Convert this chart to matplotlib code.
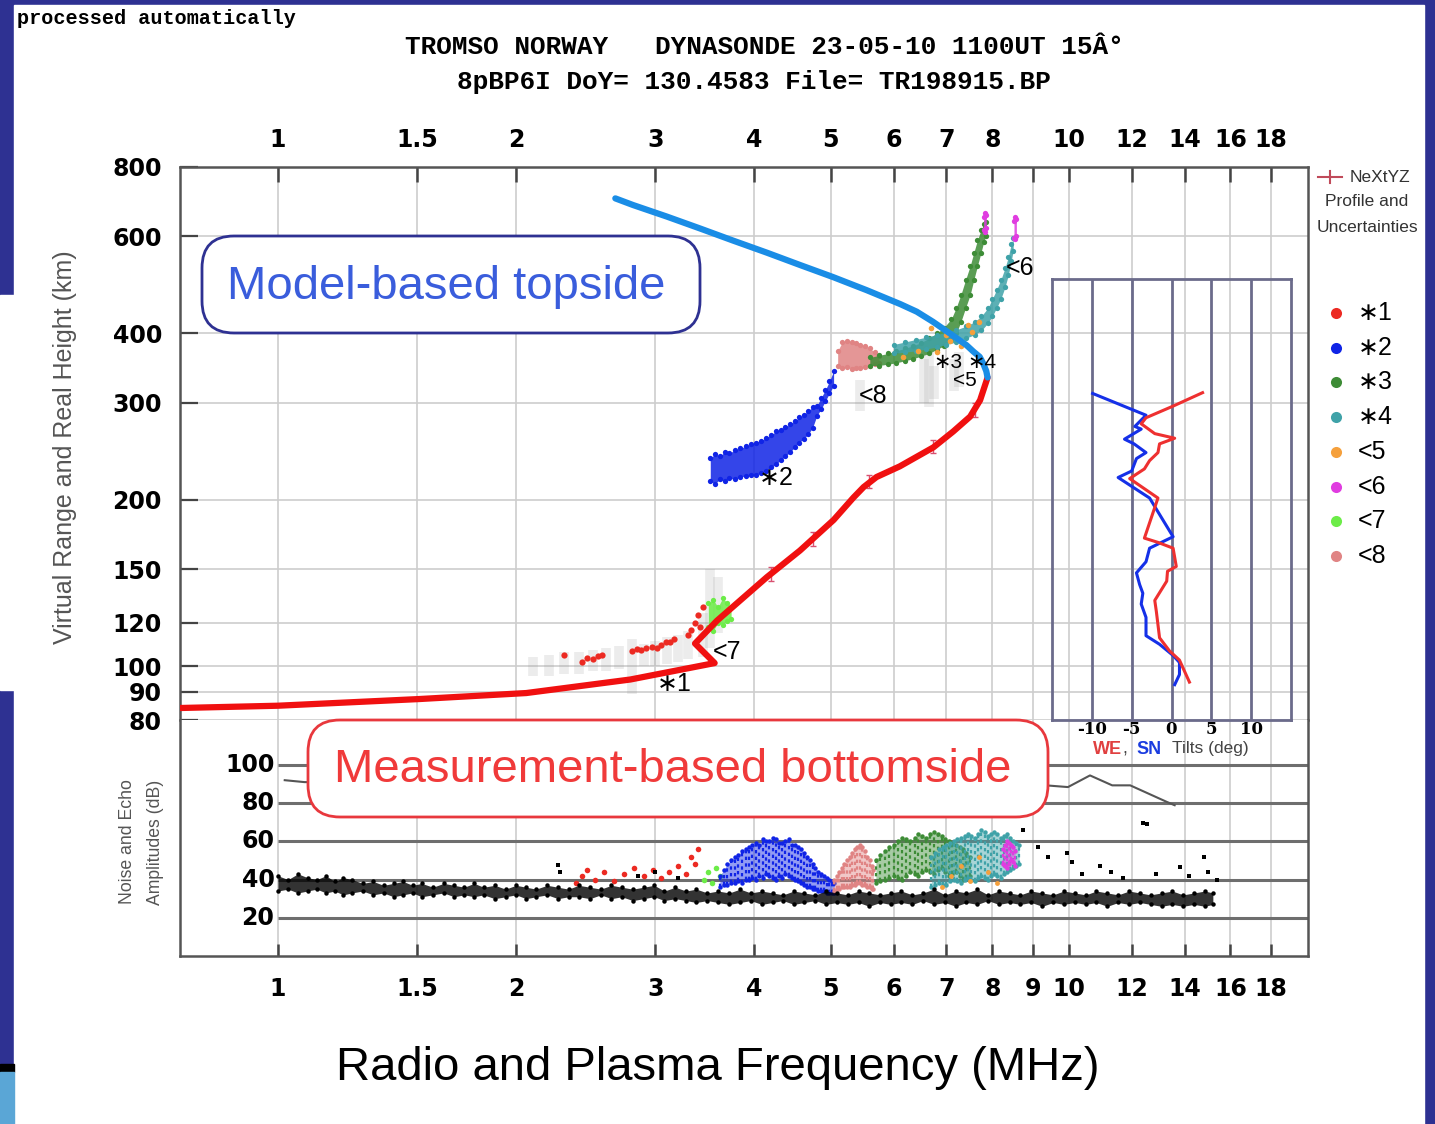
import matplotlib
matplotlib.use("Agg")
import matplotlib.pyplot as plt
from matplotlib.patches import FancyBboxPatch, Rectangle
from matplotlib import font_manager

# ---- data ----
top_ticks = [1, 1.5, 2, 3, 4, 5, 6, 7, 8, 9, 10, 12, 14, 16, 18]
top_labels = ['1', '1.5', '2', '3', '4', '5', '6', '7', '8', '', '10', '12', '14', '16', '18']
bottom_labels = ['1', '1.5', '2', '3', '4', '5', '6', '7', '8', '9', '10', '12', '14', '16', '18']
height_ticks = [80, 90, 100, 120, 150, 200, 300, 400, 600, 800]
amp_levels = [20, 40, 60, 80, 100]

# NeXtYZ bottomside profile (MHz, km)
profile_f = [0.753, 1.0, 1.51, 2.06, 2.79, 3.565, 3.367, 3.59, 4.15, 4.57,
             5.04, 5.34, 5.50, 5.71, 6.11, 6.74, 7.14, 7.50, 7.72, 7.89]
profile_h = [84.1, 84.9, 87.3, 89.5, 94.7, 101.4, 110, 121, 145, 162,
             184, 202, 211, 220, 230, 249, 266, 283, 303, 333]
err_f = [4.2, 4.75, 5.59, 6.74, 7.6]
err_h = [147, 170, 216, 250, 291]
err_dh = [4, 5, 6, 7, 8]

# model topside
topside_f = [2.67, 2.81, 3.10, 3.42, 3.76, 4.15, 4.57, 5.03, 5.55, 6.12,
             6.42, 6.73, 7.07, 7.42, 7.57, 7.71, 7.79, 7.86, 7.89]
topside_h = [702, 683, 651, 619, 589, 560, 532, 506, 479, 452,
             438, 420, 400, 381, 371, 363, 353, 342, 333]

# echo traces: frequency, lower and upper virtual height
red1_f = [2.3, 2.42, 2.46, 2.5, 2.54, 2.57, 2.8, 2.84, 2.88, 2.92, 2.97, 3.01, 3.05,
          3.09, 3.13, 3.17, 3.3, 3.33, 3.37, 3.4, 3.42, 3.45]
red1_h = [105, 102, 103.5, 103, 104.5, 104.8, 106.5, 107.5, 107, 108, 108.5, 108, 109.5,
          110.5, 110.8, 112, 114, 116.6, 120, 124, 118, 128]

blue2_f = [3.52, 3.57, 3.62, 3.67, 3.72, 3.78, 3.84, 3.9, 3.96, 4.02,
           4.08, 4.14, 4.2, 4.26, 4.32, 4.38, 4.44, 4.5, 4.56, 4.62,
           4.68, 4.74, 4.8, 4.86, 4.92, 4.98, 5.04]
blue2_lo = [216, 214, 218, 216, 219, 218, 220, 221, 222, 222,
            224, 226, 229, 232, 236, 240, 244, 249, 254, 258,
            263, 270, 284, 292, 302, 312, 322]
blue2_hi = [238, 242, 240, 244, 243, 246, 248, 250, 252, 254,
            256, 259, 262, 266, 268, 271, 274, 278, 282, 285,
            290, 294, 296, 306, 316, 328, 342]

green3_f = [5.6, 5.75, 5.9, 6.05, 6.2, 6.35, 6.5, 6.65, 6.8, 6.95,
            7.1, 7.2, 7.3, 7.4, 7.5, 7.58, 7.66, 7.74, 7.8, 7.85]
green3_lo = [350, 350, 352, 354, 357, 360, 364, 368, 374, 380,
             390, 400, 420, 445, 470, 500, 530, 560, 585, 600]
green3_hi = [362, 365, 368, 372, 376, 380, 385, 392, 400, 410,
             425, 445, 470, 500, 530, 560, 590, 615, 630, 635]

teal4_f = [6.0, 6.2, 6.4, 6.6, 6.8, 7.0, 7.2, 7.4, 7.6, 7.75,
           7.9, 8.0, 8.1, 8.2, 8.3, 8.38, 8.45, 8.5]
teal4_lo = [368, 370, 372, 375, 378, 382, 386, 392, 398, 405,
            418, 430, 445, 462, 485, 510, 540, 565]
teal4_hi = [382, 386, 390, 394, 398, 402, 406, 412, 420, 430,
            445, 462, 480, 500, 525, 550, 580, 595]

orange5_f = [6.17, 6.45, 6.7, 6.8, 7.0, 7.07, 7.3, 7.45, 7.55, 7.7]
orange5_h = [363, 372, 409, 370, 398, 388, 379, 415, 402, 420]

# <6 shows up as two short pieces, one on top of each F2 trace
magenta6a_f = [7.8, 7.83, 7.86]
magenta6a_lo = [615, 610, 620]
magenta6a_hi = [650, 660, 655]
magenta6b_f = [8.52, 8.55, 8.58]
magenta6b_lo = [595, 592, 600]
magenta6b_hi = [640, 650, 645]

green7_f = [3.5, 3.55, 3.6, 3.65, 3.7, 3.74]
green7_lo = [118, 116, 120, 119, 121, 122]
green7_hi = [130, 132, 128, 133, 130, 128]

pink8_f = [5.1, 5.17, 5.24, 5.31, 5.38, 5.45, 5.52, 5.6, 5.68, 5.75]
pink8_lo = [350, 346, 348, 345, 347, 346, 348, 350, 352, 354]
pink8_hi = [372, 386, 388, 386, 384, 382, 380, 376, 370, 364]

# raw grey echo smears
streak_f = [2.1, 2.2, 2.3, 2.4, 2.5, 2.6, 2.7, 2.8, 2.9, 3.0,
            3.1, 3.2, 3.3, 3.45, 3.52, 3.6, 5.45, 6.55, 6.65, 6.75, 7.15, 7.25]
streak_lo = [96, 96, 97, 97, 98, 98, 99, 89, 100, 100,
             101, 102, 103, 104, 108, 115, 290, 300, 295, 305, 315, 320]
streak_hi = [104, 105, 106, 106, 107, 108, 109, 112, 110, 111,
             113, 114, 116, 125, 150, 145, 330, 360, 370, 350, 360, 370]

# tilts (deg) against height (km)
tilt_h_sn = [312, 285, 272, 269, 258, 253, 244, 238, 226, 220,
             202, 172, 169, 164, 155, 148, 141, 136, 130, 123,
             114, 110, 105, 102, 97, 93]
tilt_sn = [-9.9, -3.2, -4.6, -3.8, -5.9, -4.7, -3.2, -4.4, -5.0, -6.7,
           -2.75, 0.2, -0.9, -2.75, -3.2, -4.4, -4.0, -3.6, -3.8, -3.2,
           -3.2, -1.5, 0.2, 1.0, 1.0, 0.4]
tilt_h_we = [313, 296, 282, 275, 264, 259, 253, 244, 236, 228,
             219, 202, 171, 168, 164, 152, 149, 143, 132, 126,
             113, 107, 103, 94]
tilt_we = [3.9, 0.2, -3.2, -3.8, -2.1, 0.4, -1.5, -1.7, -2.75, -3.4,
           -5.25, -1.7, -3.4, -1.7, 0.2, 0.6, -0.5, -0.6, -2.1, -1.9,
           -1.5, -0.25, 1.0, 2.25]

# amplitudes (dB)
gain_f = [1.02, 1.08, 2.0, 5.0, 9.0, 9.35, 9.97, 10.63, 11.34, 11.95, 13.3, 13.6]
gain_db = [92, 91, 90, 90, 89, 89.3, 88.4, 94.5, 89.3, 89.3, 80.6, 78.9]

noise_f = [1.0, 1.03, 1.06, 1.09, 1.12, 1.15, 1.18, 1.21, 1.24, 1.28,
           1.32, 1.36, 1.4, 1.44, 1.48, 1.52, 1.57, 1.62, 1.67, 1.72,
           1.77, 1.82, 1.88, 1.94, 2.0, 2.06, 2.12, 2.19, 2.26, 2.33,
           2.4, 2.48, 2.56, 2.64, 2.72, 2.81, 2.9, 2.99, 3.08, 3.18,
           3.28, 3.38, 3.49, 3.6, 3.72, 3.84, 3.96, 4.09, 4.22, 4.35,
           4.49, 4.63, 4.78, 4.93, 5.09, 5.25, 5.42, 5.59, 5.77, 5.95,
           6.14, 6.34, 6.54, 6.75, 6.97, 7.19, 7.42, 7.66, 7.9, 8.15,
           8.41, 8.68, 8.96, 9.25, 9.55, 9.85, 10.17, 10.5, 10.83, 11.18,
           11.54, 11.91, 12.29, 12.68, 13.09, 13.51, 13.94, 14.39, 14.85, 15.2]
noise_lo = [34, 35, 33, 34, 35, 33, 34, 32, 33, 34,
            32, 33, 31, 32, 33, 31, 32, 33, 31, 32,
            31, 32, 30, 31, 32, 30, 31, 32, 30, 31,
            31, 30, 32, 30, 31, 29, 30, 31, 29, 30,
            29, 28, 29, 28, 27, 28, 29, 27, 28, 29,
            27, 28, 29, 27, 28, 27, 28, 26, 28, 27,
            28, 27, 29, 27, 28, 26, 28, 27, 29, 27,
            28, 27, 28, 26, 28, 27, 28, 27, 28, 26,
            28, 27, 28, 27, 26, 27, 26, 27, 26, 27]
noise_hi = [42, 40, 43, 41, 40, 42, 39, 41, 40, 38,
            39, 37, 38, 39, 37, 38, 36, 38, 37, 36,
            38, 36, 37, 35, 37, 36, 35, 37, 36, 35,
            37, 36, 35, 37, 36, 35, 36, 37, 34, 36,
            34, 35, 33, 34, 33, 35, 33, 34, 33, 32,
            34, 33, 32, 34, 33, 32, 34, 33, 32, 33,
            34, 32, 33, 35, 32, 34, 33, 35, 32, 34,
            33, 32, 34, 33, 32, 34, 33, 32, 34, 33,
            32, 34, 33, 32, 33, 34, 32, 33, 34, 33]

red1_amp_f = [2.38, 2.42, 2.46, 2.52, 2.58, 2.66, 2.74, 2.82, 2.9, 2.98,
              3.05, 3.12, 3.2, 3.28, 3.33, 3.37, 3.4]
red1_amp_db = [38, 42, 45, 40, 44, 39, 43, 46, 42, 45,
               41, 44, 47, 43, 52, 48, 56]
green7_amp_f = [3.46, 3.5, 3.54, 3.58, 3.62]
green7_amp_db = [40, 44, 38, 46, 42]
blue2_amp_f = [3.62, 3.66, 3.7, 3.74, 3.78, 3.82, 3.86, 3.9, 3.94, 3.98,
               4.02, 4.06, 4.1, 4.14, 4.18, 4.22, 4.26, 4.3, 4.34, 4.38,
               4.42, 4.46, 4.5, 4.54, 4.58, 4.62, 4.66, 4.7, 4.74, 4.78,
               4.82, 4.86, 4.9, 4.94, 4.98, 5.02, 5.05]
blue2_amp_lo = [36, 37, 37, 38, 38, 39, 38, 40, 40, 41,
                40, 42, 41, 43, 42, 41, 40, 42, 41, 43,
                42, 41, 40, 39, 38, 37, 36, 36, 35, 35,
                34, 34, 34, 33, 33, 33, 33]
blue2_amp_hi = [42, 45, 48, 50, 52, 53, 55, 56, 57, 58,
                59, 58, 61, 60, 60, 62, 61, 59, 59, 60,
                61, 58, 58, 57, 56, 54, 52, 50, 48, 46,
                44, 43, 42, 41, 40, 39, 38]
pink8_amp_f = [5.05, 5.09, 5.12, 5.16, 5.2, 5.24, 5.28, 5.32, 5.36, 5.4,
               5.44, 5.48, 5.52, 5.56, 5.6, 5.63, 5.66]
pink8_amp_lo = [34, 35, 35, 36, 36, 36, 36, 37, 37, 38, 38, 37, 37, 36, 36, 35, 35]
pink8_amp_hi = [40, 42, 44, 46, 48, 50, 52, 54, 56, 57, 58, 57, 55, 52, 50, 47, 45]
green3_amp_f = [5.7, 5.77, 5.85, 5.92, 6.0, 6.08, 6.15, 6.22, 6.3, 6.38,
                6.45, 6.52, 6.6, 6.68, 6.75, 6.82, 6.9, 6.98, 7.05, 7.12,
                7.2, 7.28, 7.35, 7.42, 7.5]
green3_amp_lo = [38, 39, 40, 41, 42, 41, 40, 42, 44, 43,
                 42, 44, 45, 44, 43, 45, 46, 44, 42, 43,
                 44, 42, 40, 41, 42]
green3_amp_hi = [50, 53, 55, 57, 58, 60, 62, 61, 60, 62,
                 64, 63, 62, 64, 65, 64, 63, 61, 60, 59,
                 58, 57, 56, 54, 52]
teal4_amp_f = [6.7, 6.78, 6.85, 6.92, 7.0, 7.08, 7.15, 7.22, 7.3, 7.38,
               7.45, 7.52, 7.6, 7.68, 7.75, 7.82, 7.9, 7.98, 8.05, 8.12,
               8.2, 8.28, 8.35, 8.42, 8.5, 8.58, 8.65]
teal4_amp_lo = [36, 37, 38, 37, 37, 39, 40, 39, 38, 40,
                41, 40, 39, 41, 42, 41, 40, 42, 43, 42,
                41, 43, 44, 45, 46, 47, 48]
teal4_amp_hi = [52, 54, 56, 57, 58, 59, 60, 61, 62, 63,
                64, 63, 62, 64, 66, 65, 63, 64, 65, 64,
                62, 63, 64, 62, 60, 59, 58]
magenta6_amp_f = [8.25, 8.3, 8.35, 8.4, 8.45, 8.5, 8.55]
magenta6_amp_lo = [48, 47, 46, 48, 50, 49, 47]
magenta6_amp_hi = [56, 58, 60, 59, 58, 57, 55]
orange5_amp_f = [6.9, 7.1, 7.3, 7.5, 7.7, 7.9, 8.1]
orange5_amp_db = [36, 42, 47, 39, 52, 44, 38]
black_amp_f = [2.26, 2.27, 2.85, 3.0, 3.2, 8.74, 9.14, 9.4, 9.95, 10.1,
               10.4, 10.95, 11.3, 11.7, 12.4, 12.55, 12.9, 13.8, 14.2, 14.8,
               15.0, 15.4]
black_amp_db = [47.6, 44, 42, 44, 41, 65.8, 57, 52, 54, 49,
                43, 47, 44, 41, 69.5, 69, 43, 46.5, 42, 51.7,
                44, 40]

trace_labels = ['∗1', '∗2', '∗3', '∗4', '<5', '<6', '<7', '<8']
trace_colors = ['#ec2a22', '#1024e6', '#3d8c36', '#3fa2a8',
                '#f5a03c', '#e03ce0', '#6cec48', '#e08484']
C = dict(zip(trace_labels, trace_colors))

# ---- figure ----
W, H = 1435, 1124
names = {f.name for f in font_manager.fontManager.ttflist}
NARROW = 'Liberation Sans Narrow' if 'Liberation Sans Narrow' in names else 'Liberation Sans'
NS = 1.2 if NARROW == 'Liberation Sans Narrow' else 1.0
SANS = ['Liberation Sans', 'DejaVu Sans']
MONO = ['Liberation Mono', 'DejaVu Sans Mono']

fig = plt.figure(figsize=(W / 100, H / 100), dpi=100, facecolor='#2e3192')


def rect(x0, y0, x1, y1):
    return [x0 / W, 1 - y1 / H, (x1 - x0) / W, (y1 - y0) / H]


bg = fig.add_axes([0, 0, 1, 1], zorder=-5)
bg.set_xlim(0, W)
bg.set_ylim(H, 0)
bg.axis('off')
bg.add_patch(Rectangle((14, 5), 1410, 1119, color='white'))
bg.add_patch(Rectangle((0, 295), 14, 395, color='white'))
bg.add_patch(Rectangle((0, 1064), 14, 8, color='black'))
bg.add_patch(Rectangle((0, 1072), 14, 52, color='#5aa6d6'))

ax = fig.add_axes(rect(180, 167, 1308, 720), zorder=1)
ax2 = fig.add_axes(rect(180, 720, 1308, 956), zorder=1)
tilt = fig.add_axes(rect(1052, 279, 1291, 720), zorder=2, facecolor='none')
ov = fig.add_axes([0, 0, 1, 1], zorder=3)

GRID = '#cdcdcd'
for a in (ax, ax2):
    a.set_xscale('log')
    a.set_xlim(0.752, 20.05)
    a.set_xticks(top_ticks)
    a.minorticks_off()
    a.set_facecolor('white')
    for s in a.spines.values():
        s.set_color('#555555')
        s.set_linewidth(1.8)
    a.grid(axis='x', color=GRID, lw=1.2, zorder=0)
    a.set_axisbelow(True)

# upper panel
ax.set_yscale('log')
ax.set_ylim(80, 800)
ax.set_yticks(height_ticks)
ax.minorticks_off()
ax.set_yticklabels([str(v) for v in height_ticks], fontsize=17, fontweight='bold')
ax.set_xticklabels(top_labels, fontsize=17, fontweight='bold')
ax.xaxis.tick_top()
ax.grid(axis='y', color=GRID, lw=1.2, zorder=0)
ax.tick_params(axis='y', direction='in', length=13, width=1.6, color='#444444', pad=13)
ax.tick_params(axis='x', direction='in', length=11, width=1.8, color='#444444', pad=11)
ax.spines['bottom'].set_visible(False)

ax.vlines(streak_f, streak_lo, streak_hi, color='#8c8c8c', lw=7, alpha=0.16, zorder=1)


def trace(a, f, lo, hi, color, alpha=0.85, ms=3.8, z=3, texture=False):
    # echo cloud: filled spread between lower and upper edge, speckled borders
    a.fill_between(f, lo, hi, color=color, alpha=alpha, lw=0, zorder=z)
    if texture:
        a.vlines(f, lo, hi, colors=color, lw=1.6, linestyles=(0, (1.5, 1.5)), zorder=z)
    a.plot(f, lo, 'o', color=color, ms=ms, mew=0, zorder=z)
    a.plot(f, hi, 'o', color=color, ms=ms, mew=0, zorder=z)


ax.plot(red1_f, red1_h, 'o', color=C['∗1'], ms=4.5, mew=0, zorder=3)
trace(ax, blue2_f, blue2_lo, blue2_hi, C['∗2'])
trace(ax, pink8_f, pink8_lo, pink8_hi, C['<8'])
trace(ax, green3_f, green3_lo, green3_hi, C['∗3'])
trace(ax, teal4_f, teal4_lo, teal4_hi, C['∗4'])
trace(ax, magenta6a_f, magenta6a_lo, magenta6a_hi, C['<6'])
trace(ax, magenta6b_f, magenta6b_lo, magenta6b_hi, C['<6'])
trace(ax, green7_f, green7_lo, green7_hi, C['<7'])
ax.plot(orange5_f, orange5_h, 'o', color=C['<5'], ms=4, mew=0, zorder=3)

ax.errorbar(err_f, err_h, yerr=err_dh, fmt='none', ecolor='#d85070',
            elinewidth=1, capsize=2.5, zorder=4)
ax.plot(profile_f, profile_h, color='#f01010', lw=4.5, solid_joinstyle='round',
        solid_capstyle='round', zorder=5)
ax.plot(topside_f, topside_h, color='#1a8de6', lw=4.5, solid_capstyle='round', zorder=5)

lab_kw = dict(fontsize=18, family=SANS, ha='center', va='center', zorder=6)
ax.text(3.17, 92.9, '∗1', **lab_kw)
ax.text(3.70, 106.2, '<7', **lab_kw)
ax.text(4.27, 219, '∗2', **lab_kw)
ax.text(5.65, 308, '<8', **lab_kw)
ax.text(8.67, 525, '<6', **lab_kw)
small_kw = dict(lab_kw, fontsize=15)
ax.text(7.03, 355, '∗3', **small_kw)
ax.text(7.39, 329.5, '<5', **small_kw)
ax.text(7.76, 355, '∗4', **small_kw)

# lower panel
ax2.set_ylim(0, 123.5)
ax2.set_yticks([])
ax2.set_xticklabels(bottom_labels, fontsize=17, fontweight='bold')
ax2.tick_params(axis='x', direction='in', length=9, width=1.8, color='#444444', pad=15)
ax2.spines['top'].set_visible(False)
ax2.hlines(amp_levels, 1.0, 20.05, color='#6e6e6e', lw=2.2, zorder=1)
for lev in amp_levels:
    ax2.text(0.99, lev, str(lev), ha='right', va='center', fontsize=17, fontweight='bold')

ax2.plot(gain_f, gain_db, color='#555555', lw=1.5, zorder=2)
ax2.plot(red1_amp_f, red1_amp_db, 'o', color=C['∗1'], ms=4, mew=0, zorder=3)
ax2.plot(green7_amp_f, green7_amp_db, 'o', color=C['<7'], ms=4, mew=0, zorder=3)
amp_kw = dict(alpha=0.45, ms=3.2, texture=True)
trace(ax2, blue2_amp_f, blue2_amp_lo, blue2_amp_hi, C['∗2'], **amp_kw)
trace(ax2, pink8_amp_f, pink8_amp_lo, pink8_amp_hi, C['<8'], **amp_kw)
trace(ax2, green3_amp_f, green3_amp_lo, green3_amp_hi, C['∗3'], **amp_kw)
trace(ax2, teal4_amp_f, teal4_amp_lo, teal4_amp_hi, C['∗4'], **amp_kw)
trace(ax2, magenta6_amp_f, magenta6_amp_lo, magenta6_amp_hi, C['<6'], **amp_kw)
ax2.plot(orange5_amp_f, orange5_amp_db, 'o', color=C['<5'], ms=3.5, mew=0, zorder=3)
ax2.plot(black_amp_f, black_amp_db, 's', color='black', ms=3, mew=0, zorder=4)
trace(ax2, noise_f, noise_lo, noise_hi, 'black', alpha=0.8, ms=3.2, z=4)

# tilt inset
TC = '#6b6b8b'
tilt.set_xlim(-15, 15)
tilt.set_yscale('log')
tilt.set_ylim(80.3, 502)
tilt.minorticks_off()
tilt.set_yticks([])
tilt.set_xticks([-10, -5, 0, 5, 10])
tilt.set_xticklabels(['-10', '-5', '0', '5', '10'], fontsize=12, fontweight='bold',
                     family='DejaVu Serif')
tilt.tick_params(axis='x', length=0, pad=1)
tilt.grid(axis='x', color=TC, lw=2)
for s in tilt.spines.values():
    s.set_color(TC)
    s.set_linewidth(2)
tilt.plot(tilt_sn, tilt_h_sn, color='#1530e8', lw=2.2)
tilt.plot(tilt_we, tilt_h_we, color='#ee3030', lw=2.2)

# overlay: titles, labels, call-outs, legend
ov.set_xlim(0, W)
ov.set_ylim(H, 0)
ov.axis('off')
ov.set_autoscale_on(False)

ov.text(17, 18, 'processed automatically', family=MONO, fontweight='bold',
        fontsize=14.5, ha='left', va='center')
ov.text(405, 47, 'TROMSO NORWAY   DYNASONDE 23-05-10 1100UT 15Â°', family=MONO,
        fontweight='bold', fontsize=18.8, ha='left', va='center')
ov.text(457, 82, '8pBP6I DoY= 130.4583 File= TR198915.BP', family=MONO,
        fontweight='bold', fontsize=18.8, ha='left', va='center')

ov.text(65, 447, 'Virtual Range and Real Height (km)', rotation=90, ha='center',
        va='center', color='#555555', family=NARROW, fontsize=18 * NS)
ov.text(128, 842, 'Noise and Echo', rotation=90, ha='center', va='center',
        color='#555555', family=NARROW, fontsize=12.7 * NS)
ov.text(156, 842, 'Amplitudes (dB)', rotation=90, ha='center', va='center',
        color='#555555', family=NARROW, fontsize=12.7 * NS)
ov.text(718, 1068, 'Radio and Plasma Frequency (MHz)', ha='center', va='center',
        family=SANS, fontsize=34)

ov.add_patch(FancyBboxPatch((202, 236), 498, 97, boxstyle='round,pad=0,rounding_size=32',
                            fc='white', ec='#2e3192', lw=2))
ov.text(446, 287, 'Model-based topside', ha='center', va='center', color='#3a5ddc',
        family=SANS, fontsize=34)
ov.add_patch(FancyBboxPatch((308, 720), 740, 97, boxstyle='round,pad=0,rounding_size=32',
                            fc='white', ec='#e8383d', lw=2))
ov.text(673, 770, 'Measurement-based bottomside', ha='center', va='center',
        color='#f03a3a', family=SANS, fontsize=34)

# tilt caption
ov.text(1093, 749, 'WE', color='#e04040', fontweight='bold', family=SANS,
        fontsize=13, ha='left', va='center')
ov.text(1122, 749, ',', color='#444444', family=SANS, fontsize=13, ha='left', va='center')
ov.text(1136, 749, 'SN', color='#1a3ce0', fontweight='bold', family=SANS,
        fontsize=13, ha='left', va='center')
ov.text(1172, 749, 'Tilts (deg)', color='#444444', family=NARROW,
        fontsize=12.5 * NS, ha='left', va='center')

# profile legend
ov.plot([1318, 1342], [177, 177], color='#c04a5a', lw=1.5)
ov.plot([1330, 1330], [171, 183], color='#c04a5a', lw=1.5)
ov.text(1350, 177, 'NeXtYZ', color='#333333', family=NARROW, fontsize=12.5 * NS,
        ha='left', va='center')
ov.text(1367, 201, 'Profile and', color='#333333', family=NARROW, fontsize=12.5 * NS,
        ha='center', va='center')
ov.text(1367, 228, 'Uncertainties', color='#333333', family=NARROW, fontsize=12.5 * NS,
        ha='center', va='center')

for i, (lab, col) in enumerate(zip(trace_labels, trace_colors)):
    y = 313 + 34.7 * i
    ov.plot(1336, y, 'o', color=col, ms=8, mew=0)
    ov.text(1358, y, lab, family=SANS, fontsize=18, ha='left', va='center')

fig.savefig('out.png', dpi=100, facecolor=fig.get_facecolor())
